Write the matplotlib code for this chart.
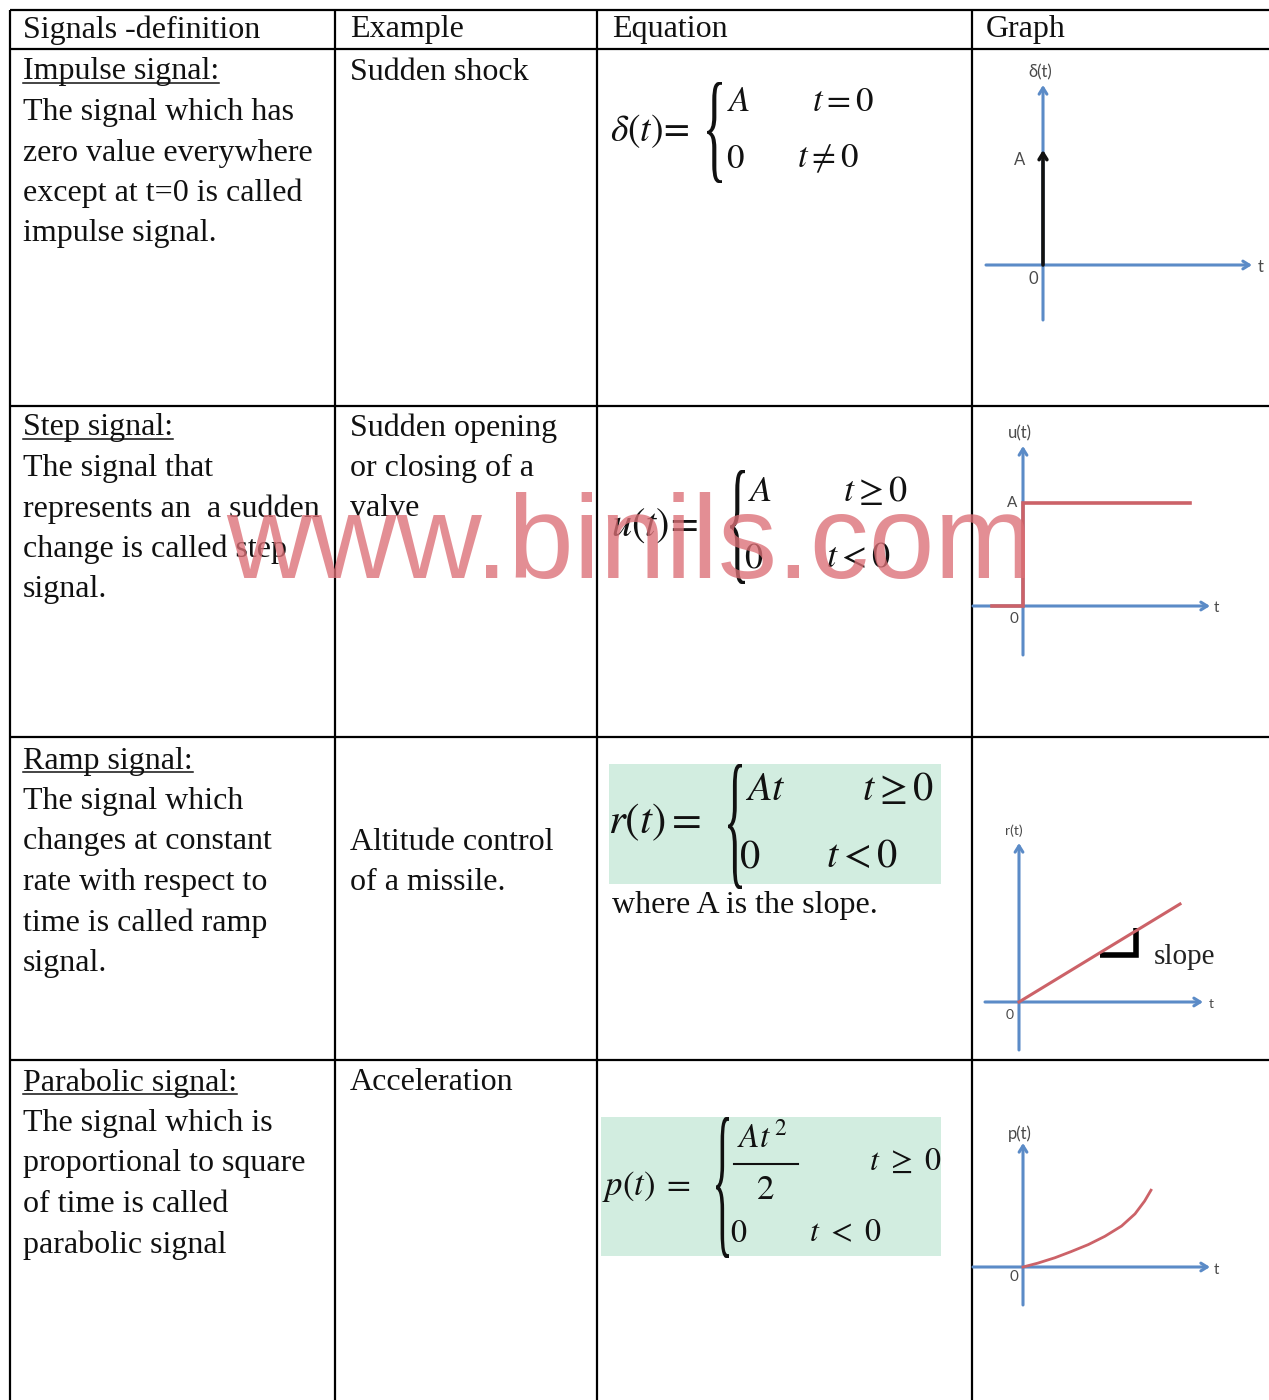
import matplotlib
matplotlib.use("Agg")
import matplotlib.pyplot as plt
from matplotlib.patches import Rectangle, PathPatch
from matplotlib.textpath import TextPath
from matplotlib.font_manager import FontProperties
from matplotlib.transforms import Affine2D

# ---------------- data ----------------
header = ["Signals -definition", "Example", "Equation", "Graph"]
definitions = [
    ["Impulse signal:", "The signal which has", "zero value everywhere",
     "except at t=0 is called", "impulse signal."],
    ["Step signal:", "The signal that", "represents an  a sudden",
     "change is called step", "signal."],
    ["Ramp signal:", "The signal which", "changes at constant",
     "rate with respect to", "time is called ramp", "signal."],
    ["Parabolic signal:", "The signal which is", "proportional to square",
     "of time is called", "parabolic signal"],
]
examples = [
    ["Sudden shock"],
    ["Sudden opening", "or closing of a", "valve"],
    ["Altitude control", "of a missile."],
    ["Acceleration"],
]
ramp_note = "where A is the slope."

# signal samples (data units, A = 1)
impulse_t = [0.0]
impulse_amp = [1.0]
step_t = [-0.30, 0.0, 0.0, 1.62]
step_u = [0.0, 0.0, 1.0, 1.0]
ramp_t = [0.0, 1.61]
ramp_r = [0.0, 0.98]
parab_t = [0.0, 0.23, 0.50, 0.75, 1.02, 1.28, 1.54, 1.75, 1.90, 2.00]
parab_p = [0.0, 0.06, 0.145, 0.24, 0.35, 0.48, 0.64, 0.83, 1.03, 1.20]

# ---------------- figure ----------------
W, H = 1269, 1400
fig = plt.figure(figsize=(W / 100, H / 100), dpi=100)
plt.rcParams['mathtext.fontset'] = 'stix'
ax = fig.add_axes([0, 0, 1, 1])
ax.set_xlim(0, W)
ax.set_ylim(H, 0)
ax.axis('off')

SERIF = 'Liberation Serif'
TXT = '#111111'
FS = 23
DY = 3  # vertical nudge of body text

# table grid
ax.vlines([10, 335, 597, 972], 10, H, color='black', lw=1.6, zorder=1)
ax.hlines([10, 49, 406, 737, 1060], 10, W, color='black', lw=1.6, zorder=1)

# header
for label, x in zip(header, [23, 350, 612, 986]):
    ax.text(x, 27 + DY, label, family=SERIF, fontsize=FS, color=TXT, va='center', ha='left')

STEP = 40.5
def_y0 = [69, 425, 758, 1080]
ex_y0 = [69, 425, 839, 1080]
title_texts = []
for lines, y0 in zip(definitions, def_y0):
    for i, line in enumerate(lines):
        t = ax.text(23, y0 + DY + i * STEP, line, family=SERIF, fontsize=FS, color=TXT,
                    va='center', ha='left')
        if i == 0:
            title_texts.append((t, y0))
for lines, y0 in zip(examples, ex_y0):
    for i, line in enumerate(lines):
        ax.text(350, y0 + DY + i * STEP, line, family=SERIF, fontsize=FS, color=TXT,
                va='center', ha='left')
ax.text(612, 903 + DY, ramp_note, family=SERIF, fontsize=FS, color=TXT, va='center', ha='left')

# underlines of titles
fig.canvas.draw()
rend = fig.canvas.get_renderer()
for t, y0 in title_texts:
    bb = t.get_window_extent(rend)
    ax.plot([bb.x0, bb.x1], [y0 + 14, y0 + 14], color=TXT, lw=1.1)

# ---------------- equations ----------------
def brace(x0, x1, y0, y1):
    tp = TextPath((0, 0), "{", size=100, prop=FontProperties(family=SERIF))
    e = tp.get_extents()
    tr = (Affine2D().translate(-e.x0, -e.y0)
          .scale((x1 - x0) / e.width, -(y1 - y0) / e.height)
          .translate(x0, y1))
    ax.add_patch(PathPatch(tr.transform_path(tp), fc=TXT, ec='none', lw=0, zorder=3))

def m(x, y, s, fs, ha='left'):
    ax.text(x, y, s, fontsize=fs, color=TXT, va='center', ha=ha, zorder=3)

# row 1
m(610, 131, r'$\delta(t)\!=$', 27)
brace(707, 722, 82, 183)
m(727, 101, r'$A$', 25)
m(812, 101, r'$t=0$', 25)
m(726, 158, r'$0$', 25)
m(797, 158, r'$t\neq0$', 25)

# row 2
m(611, 525, r'$u(t)\!=$', 29)
brace(730, 745, 470, 584)
m(748, 491, r'$A$', 26)
m(843, 491, r'$t\geq0$', 26)
m(744, 557, r'$0$', 26)
m(826, 557, r'$t<0$', 26)

# row 3
ax.add_patch(Rectangle((609, 764), 332, 120, fc='#d2ede0', ec='none', zorder=2))
m(608, 822, r'$r(t)=$', 31)
brace(728, 742, 764, 889)
m(745, 789, r'$At$', 29)
m(862, 789, r'$t\geq0$', 29)
m(739, 856, r'$0$', 29)
m(826, 856, r'$t<0$', 29)

# row 4
ax.add_patch(Rectangle((601, 1117), 340, 139, fc='#d2ede0', ec='none', zorder=2))
m(602, 1187, r'$p(t)\;=$', 25)
brace(716, 729, 1117, 1258)
m(737, 1138, r'$At^{\,2}$', 24)
ax.plot([734, 798], [1164, 1164], color=TXT, lw=1.5, zorder=3)
m(765, 1189, r'$2$', 25, ha='center')
m(869, 1161, r'$t\ \geq\ 0$', 23)
m(730, 1233, r'$0$', 23)
m(809, 1233, r'$t\ <\ 0$', 23)

# ---------------- graphs ----------------
BLUE = '#5b8bc7'
RED = '#cc6268'
LAB = '#4a4a4a'

class Graph:
    def __init__(self, box, origin, unit):
        px0, px1, py0, py1 = box
        self.ox, self.oy = origin
        self.u = unit
        self.ax = fig.add_axes([px0 / W, 1 - py1 / H, (px1 - px0) / W, (py1 - py0) / H])
        self.ax.set_xlim((px0 - self.ox) / unit, (px1 - self.ox) / unit)
        self.ax.set_ylim((self.oy - py1) / unit, (self.oy - py0) / unit)
        self.ax.axis('off')
        self.ax.patch.set_alpha(0)

    def p(self, px, py):
        return ((px - self.ox) / self.u, (self.oy - py) / self.u)

    def axes_arrows(self, hx0, hx1, vy0, vy1, lw=2.2):
        sty = '->,head_length=0.45,head_width=0.28'
        self.ax.annotate('', xy=self.p(hx1, self.oy), xytext=self.p(hx0, self.oy),
                         arrowprops=dict(arrowstyle=sty, color=BLUE, lw=lw,
                                         shrinkA=0, shrinkB=0), annotation_clip=False)
        self.ax.annotate('', xy=self.p(self.ox, vy1), xytext=self.p(self.ox, vy0),
                         arrowprops=dict(arrowstyle=sty, color=BLUE, lw=lw,
                                         shrinkA=0, shrinkB=0), annotation_clip=False)

    def label(self, px, py, s, fs=12, **kw):
        x, y = self.p(px, py)
        self.ax.text(x, y, s, fontsize=fs, color=LAB, ha='center', va='center',
                     family=['Lato', 'DejaVu Sans'], **kw)

# impulse
g1 = Graph((975, 1268, 55, 335), (1043, 265), 115)
g1.axes_arrows(986, 1252, 320, 85)
for t0, a in zip(impulse_t, impulse_amp):
    g1.ax.annotate('', xy=(t0, a), xytext=(t0, 0),
                   arrowprops=dict(arrowstyle='->,head_length=0.45,head_width=0.28',
                                   color='#111111', lw=2.6, shrinkA=0, shrinkB=0))
g1.label(1040, 72, 'δ(t)')
g1.label(1020, 160, 'A')
g1.label(1033, 279, '0')
g1.label(1261, 267, 't')

# step
g2 = Graph((973, 1226, 410, 657), (1023, 606), 103)
g2.axes_arrows(973, 1210, 655, 446)
g2.ax.plot(step_t, step_u, color=RED, lw=2.6, solid_joinstyle='miter', zorder=3)
g2.label(1020, 433, 'u(t)')
g2.label(1012, 503, 'A', fs=11)
g2.label(1014, 619, '0', fs=11)
g2.label(1216, 608, 't', fs=11)

# ramp
g3 = Graph((975, 1268, 800, 1058), (1019, 1002), 100)
g3.axes_arrows(985, 1203, 1050, 843)
g3.ax.plot(ramp_t, ramp_r, color=RED, lw=2.2, zorder=3)
xs = [g3.p(1100, 955)[0], g3.p(1136, 955)[0], g3.p(1136, 928)[0]]
ys = [g3.p(1100, 955)[1], g3.p(1136, 955)[1], g3.p(1136, 928)[1]]
g3.ax.plot(xs, ys, color='black', lw=4, solid_joinstyle='miter', solid_capstyle='butt')
sx, sy = g3.p(1154, 957)
g3.ax.text(sx, sy, 'slope', family=SERIF, fontsize=21, color='#222222', va='center', ha='left')
g3.label(1014, 831, 'r(t)', fs=10)
g3.label(1010, 1015, '0', fs=10)
g3.label(1211, 1004, 't', fs=10)

# parabolic
g4 = Graph((973, 1240, 1118, 1306), (1023, 1267), 64)
g4.axes_arrows(973, 1210, 1305, 1143)
g4.ax.plot(parab_t, parab_p, color=RED, lw=2.0, zorder=3, solid_joinstyle='round')
g4.label(1020, 1134, 'p(t)')
g4.label(1014, 1277, '0', fs=11)
g4.label(1216, 1270, 't', fs=11)

# ---------------- watermark ----------------
ov = fig.add_axes([0, 0, 1, 1])
ov.set_xlim(0, W)
ov.set_ylim(H, 0)
ov.axis('off')
ov.patch.set_alpha(0)
ov.text(226, 578, 'www.binils.com', family='Liberation Sans', fontsize=85,
        color='#dc6f76', alpha=0.78, va='baseline', ha='left')

fig.savefig('out.png', dpi=100)
